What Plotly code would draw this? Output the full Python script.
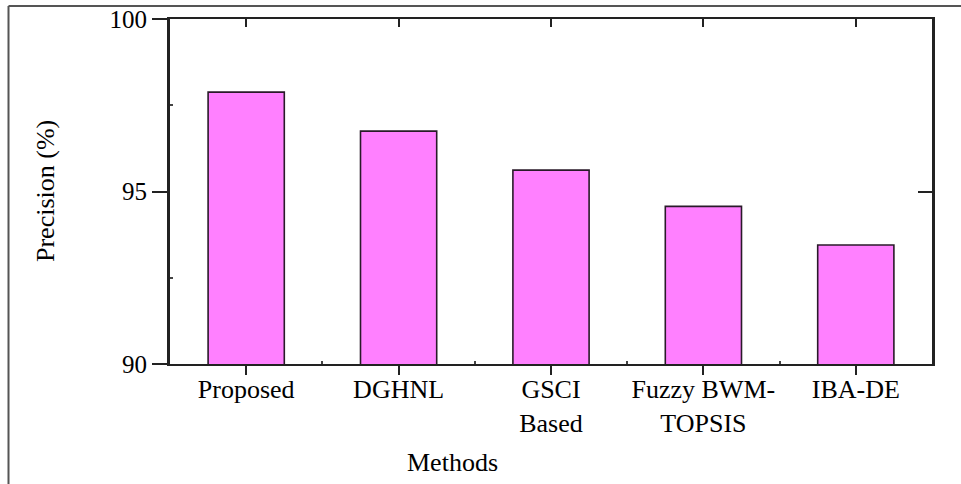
import plotly.graph_objects as go

methods = ["Proposed", "DGHNL", "GSCI<br>Based", "Fuzzy BWM-<br>TOPSIS", "IBA-DE"]
precision = [97.88, 96.75, 95.62, 94.57, 93.45]
y_ticks = [90, 95, 100]

W, H = 961, 484
L, R, T, B = 170, 29, 19, 120
pw, ph = W - L - R, H - T - B
FONT = dict(family="Liberation Serif, Times New Roman, serif", size=26, color="black")
YFONT = dict(family="Liberation Serif, Times New Roman, serif", size=25, color="black")

xs = list(range(len(methods)))
fig = go.Figure()
fig.add_trace(go.Bar(
    x=xs, y=precision, width=0.5,
    marker=dict(color="#ff80ff", line=dict(color="#2a1a2a", width=1.6)),
    showlegend=False, hoverinfo="skip"))

fig.update_layout(
    template="none",
    width=W, height=H, margin=dict(l=L, r=R, t=T, b=B, autoexpand=False),
    paper_bgcolor="white", plot_bgcolor="white", font=FONT,
    xaxis=dict(range=[-0.5, 4.5], tickvals=xs, ticktext=methods, automargin=False,
               ticks="outside", ticklen=9, tickwidth=2, tickcolor="#222",
               ticklabelstandoff=-8,
               showline=True, linecolor="#222", linewidth=2,
               showgrid=False, zeroline=False, tickfont=FONT,
               minor=dict(tickvals=[0.5, 1.5, 2.5, 3.5], ticks="inside",
                          ticklen=3, tickwidth=1.5, tickcolor="#444", showgrid=False)),
    xaxis2=dict(range=[-0.5, 4.5], overlaying="x", side="top", matches="x",
                tickvals=xs, showticklabels=False, automargin=False,
                ticks="inside", ticklen=8, tickwidth=2, tickcolor="#222",
                showline=True, linecolor="#222", linewidth=2,
                showgrid=False, zeroline=False),
    yaxis=dict(range=[90, 100], tickvals=y_ticks, ticks="outside", ticklen=15,
               tickwidth=2, tickcolor="#222", showline=True, linecolor="#222",
               linewidth=3, showgrid=False, zeroline=False, tickfont=YFONT,
               automargin=False,
               minor=dict(tickvals=[92.5, 97.5], ticks="inside", ticklen=3,
                          tickwidth=1.5, tickcolor="#444", showgrid=False)),
    yaxis2=dict(range=[90, 100], overlaying="y", side="right", matches="y",
                tickvals=y_ticks, showticklabels=False, automargin=False,
                ticks="inside", ticklen=14, tickwidth=2, tickcolor="#222",
                showline=True, linecolor="#222", linewidth=3,
                showgrid=False, zeroline=False),
)

# invisible trace to activate secondary axes
fig.add_trace(go.Scatter(x=[0], y=[95], xaxis="x2", yaxis="y2", mode="markers",
                         marker=dict(opacity=0), showlegend=False, hoverinfo="skip"))

def px_x(p):
    return (p - L) / pw

def px_y(p):
    return (H - B - p) / ph

fig.add_annotation(text="Precision (%)", xref="paper", yref="paper",
                   x=px_x(45), y=px_y(191), textangle=-90, showarrow=False,
                   font=FONT, xanchor="center", yanchor="middle")
fig.add_annotation(text="Methods", xref="paper", yref="paper",
                   x=px_x(452), y=px_y(462), showarrow=False,
                   font=FONT, xanchor="center", yanchor="middle")

# outer figure frame (left and top edges)
fig.add_shape(type="line", xref="paper", yref="paper",
              x0=px_x(8.5), x1=px_x(8.5), y0=px_y(6), y1=px_y(490),
              line=dict(color="#555", width=2))
fig.add_shape(type="line", xref="paper", yref="paper",
              x0=px_x(8.5), x1=px_x(970), y0=px_y(6), y1=px_y(6),
              line=dict(color="#555", width=2))

post = ("document.body.style.margin='0';document.body.style.padding='0';"
        "var d=document.getElementById('{plot_id}');"
        "d.style.position='fixed';d.style.top='0px';d.style.left='0px';")
fig.write_html("out.html", post_script=post, config={"displayModeBar": False})
